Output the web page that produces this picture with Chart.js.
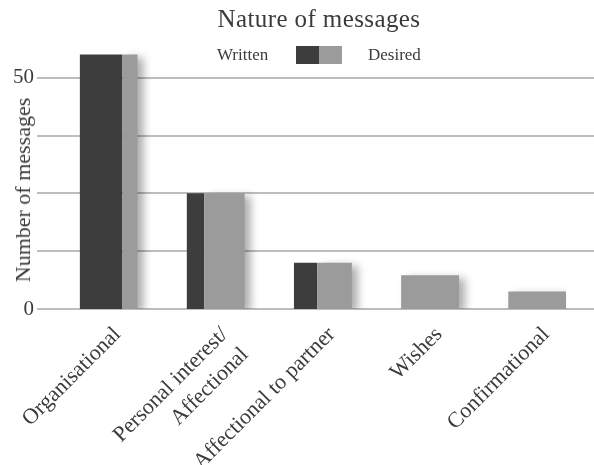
<!DOCTYPE html>
<html>
<head>
<meta charset="utf-8">
<script src="https://cdn.jsdelivr.net/npm/chart.js@4.4.1/dist/chart.umd.min.js"></script>
<style>
  body { margin: 0; background: #fff; }
  #wrap { position: relative; width: 594px; height: 465px; }
  .txt { position: absolute; font-family: "Liberation Serif", "Times New Roman", serif; color: #3b3b3b; line-height: 1; white-space: nowrap; }
  #title { left: 319px; top: 6px; font-size: 25px; letter-spacing: 0.4px; transform: translateX(-50%); }
  #ytitle { left: 23px; top: 190px; font-size: 22px; transform: translate(-50%, -50%) rotate(-90deg); }
  .lg { font-size: 17px; top: 46px; }
  .box { position: absolute; top: 46px; width: 23px; height: 18px; }
</style>
</head>
<body>
<div id="wrap">
  <canvas id="myChart" width="594" height="465"></canvas>
  <div class="txt" id="title">Nature of messages</div>
  <div class="txt" id="ytitle">Number of messages</div>
  <div id="legend"></div>
</div>
<script>
// categories on the x axis
const categories = ['Organisational', ['Personal interest/', 'Affectional'], 'Affectional to partner', 'Wishes', 'Confirmational'];
// number of messages per category
const written = [55, 25, 10, 0, 0];
const desired = [55, 25, 10, 7.3, 3.8];
// part of each column taken by the Written block
const writtenShare = [0.74, 0.3, 0.4, 0, 0];
const yTicksShown = [0, 50];

const darkColor = '#3d3d3d';
const lightColor = '#9b9b9b';
const halfWidth = 0.27;

// build the outline of each column block as points on the linear x axis
function blocks(values, fromShare, toShare) {
    const pts = [];
    for (let i = 0; i < values.length; i++) {
        if (!values[i]) continue;
        const a = i - halfWidth + 2 * halfWidth * fromShare[i];
        const b = i - halfWidth + 2 * halfWidth * toShare[i];
        if (b <= a) continue;
        pts.push({x: a, y: 0}, {x: a, y: values[i]}, {x: b, y: values[i]}, {x: b, y: 0});
    }
    return pts;
}
const zeros = writtenShare.map(() => 0);
const ones = writtenShare.map(() => 1);

const shadowPlugin = {
    id: 'shadow',
    beforeDatasetsDraw(chart) {
        chart.ctx.shadowColor = 'rgba(0,0,0,0)';
    },
    afterDatasetDraw(chart, args) {
        if (args.index === 1) {
            const ctx = chart.ctx;
            ctx.shadowColor = 'rgba(0,0,0,0.32)';
            ctx.shadowBlur = 8;
            ctx.shadowOffsetX = 6;
            ctx.shadowOffsetY = 3;
        }
    },
    afterDatasetsDraw(chart) {
        const ctx = chart.ctx;
        ctx.shadowColor = 'rgba(0,0,0,0)';
        ctx.shadowBlur = 0;
        ctx.shadowOffsetX = 0;
        ctx.shadowOffsetY = 0;
    }
};

const ctx = document.getElementById('myChart').getContext('2d');
const chart = new Chart(ctx, {
    type: 'line',
    data: {
        datasets: [{
            label: 'Desired',
            data: blocks(desired, writtenShare, ones),
            backgroundColor: lightColor,
            borderWidth: 0,
            pointRadius: 0,
            tension: 0,
            fill: 'origin'
        }, {
            label: 'Written',
            data: blocks(written, zeros, writtenShare),
            backgroundColor: darkColor,
            borderWidth: 0,
            pointRadius: 0,
            tension: 0,
            fill: 'origin'
        }]
    },
    options: {
        responsive: false,
        animation: false,
        events: [],
        layout: { padding: { top: 43, left: 0, right: 0, bottom: 0 } },
        scales: {
            x: {
                type: 'linear',
                min: -0.5,
                max: 4.53,
                grid: { display: false },
                border: { display: false },
                afterBuildTicks: s => { s.ticks = categories.map((c, i) => ({value: i})); },
                afterFit: s => { s.height = 156; },
                ticks: {
                    autoSkip: false,
                    maxRotation: 45,
                    minRotation: 45,
                    padding: 4,
                    labelOffset: 9,
                    color: '#3b3b3b',
                    font: { family: 'Liberation Serif', size: 22, lineHeight: 1.3 },
                    callback: v => categories[v]
                }
            },
            y: {
                min: 0,
                max: 57.5,
                border: { display: false },
                afterBuildTicks: s => { s.ticks = s.ticks.filter(t => t.value % 12.5 === 0); },
                afterFit: s => { s.width = 55; },
                grid: { color: '#bdbdbd', lineWidth: 2, tickLength: 18 },
                ticks: {
                    stepSize: 12.5,
                    padding: 3,
                    color: '#3b3b3b',
                    font: { family: 'Liberation Serif', size: 21 },
                    callback: v => yTicksShown.includes(v) ? v : ''
                }
            }
        },
        plugins: {
            legend: { display: false },
            title: { display: false },
            tooltip: { enabled: false }
        }
    },
    plugins: [shadowPlugin]
});

// legend: "Written [dark][light] Desired"
const lg = document.getElementById('legend');
const dsWritten = chart.data.datasets[1];
const dsDesired = chart.data.datasets[0];
lg.innerHTML =
    '<div class="txt lg" style="left:217px">' + dsWritten.label + '</div>' +
    '<div class="box" style="left:296px;background:' + dsWritten.backgroundColor + '"></div>' +
    '<div class="box" style="left:319px;background:' + dsDesired.backgroundColor + '"></div>' +
    '<div class="txt lg" style="left:368px">' + dsDesired.label + '</div>';
</script>
</body>
</html>
